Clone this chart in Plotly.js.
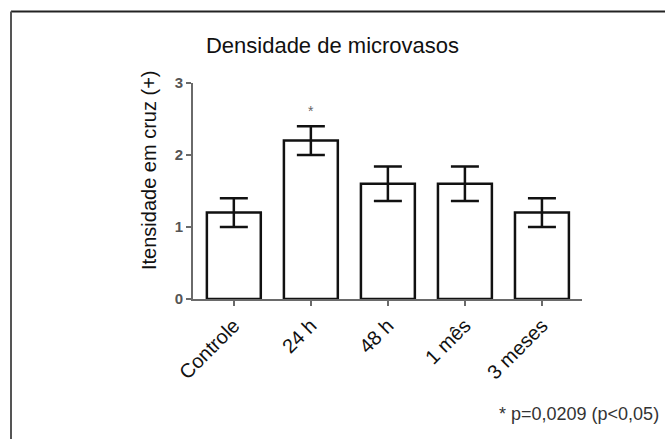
<!DOCTYPE html>
<html>
<head>
<meta charset="utf-8">
<script src="https://cdn.plot.ly/plotly-3.0.1.min.js"></script>
<style>
html,body{margin:0;padding:0;background:#fff;}
#chart{width:665px;height:439px;}
</style>
</head>
<body>
<div id="chart"></div>
<script>
// Data
const categories = ["Controle", "24 h", "48 h", "1 mês", "3 meses"];
const means = [1.2, 2.2, 1.6, 1.6, 1.2];
const errors = [0.2, 0.2, 0.24, 0.24, 0.2];
const yTicks = [0, 1, 2, 3];
const titleText = "Densidade de microvasos";
const yTitle = "Itensidade em cruz (+)";
const footnote = "* p=0,0209 (p<0,05)";
const sigCategory = "24 h";
const sigLabel = "*";

const font = "Liberation Sans, Arial, Helvetica, sans-serif";

const trace = {
  type: "bar",
  x: categories,
  y: means,
  width: 0.7,
  marker: {color: "#ffffff", line: {color: "#111111", width: 2.5}},
  error_y: {type: "data", array: errors, visible: true, color: "#111111", thickness: 2.5, width: 14},
  hoverinfo: "none"
};

const L = 193, R = 582, T = 83, B = 299;
const pw = R - L, ph = B - T;
const px = v => (v - L) / pw;
const py = v => (B - v) / ph;

const layout = {
  width: 665, height: 439,
  margin: {l: L, r: 665 - R, t: T, b: 439 - B},
  paper_bgcolor: "#ffffff",
  plot_bgcolor: "#ffffff",
  showlegend: false,
  font: {family: font, color: "#111"},
  title: {text: titleText, font: {family: font, size: 22, color: "#111"}, x: 0.5, xanchor: "center", y: 1 - 45/439, yanchor: "middle"},
  xaxis: {
    range: [-0.53, 4.52],
    showline: true, linecolor: "#6a6a6a", linewidth: 2,
    ticks: "outside", ticklen: 5, tickwidth: 2, tickcolor: "#6a6a6a",
    tickangle: -45,
    tickfont: {family: font, size: 20, color: "#111"},
    showgrid: false, zeroline: false, fixedrange: true
  },
  yaxis: {
    range: [0, 3],
    tickvals: yTicks,
    showline: true, linecolor: "#6a6a6a", linewidth: 2,
    ticks: "outside", ticklen: 5, tickwidth: 2, tickcolor: "#6a6a6a",
    tickfont: {family: font, size: 15, color: "#555", weight: "bold"},
    showgrid: false, zeroline: false, fixedrange: true
  },
  annotations: [
    {x: px(149), y: py(170), xref: "paper", yref: "paper", xanchor: "center", yanchor: "middle",
     text: yTitle, textangle: -90, showarrow: false, font: {family: font, size: 20, color: "#111"}},
    {x: sigCategory, y: means[categories.indexOf(sigCategory)] + errors[categories.indexOf(sigCategory)], xref: "x", yref: "y",
     text: sigLabel, showarrow: false, yanchor: "bottom", yshift: 5, font: {family: font, size: 14, color: "#666"}},
    {x: px(661), y: py(414), xref: "paper", yref: "paper", xanchor: "right", yanchor: "middle",
     text: footnote, showarrow: false, font: {family: font, size: 18, color: "#333"}}
  ],
  shapes: [
    {type: "line", xref: "paper", yref: "paper", x0: px(11), x1: px(670), y0: py(11.5), y1: py(11.5), line: {color: "#222", width: 2}},
    {type: "line", xref: "paper", yref: "paper", x0: px(11), x1: px(11), y0: py(11.5), y1: py(445), line: {color: "#555", width: 2}}
  ]
};

Plotly.newPlot("chart", [trace], layout, {displayModeBar: false, staticPlot: true});
</script>
</body>
</html>
